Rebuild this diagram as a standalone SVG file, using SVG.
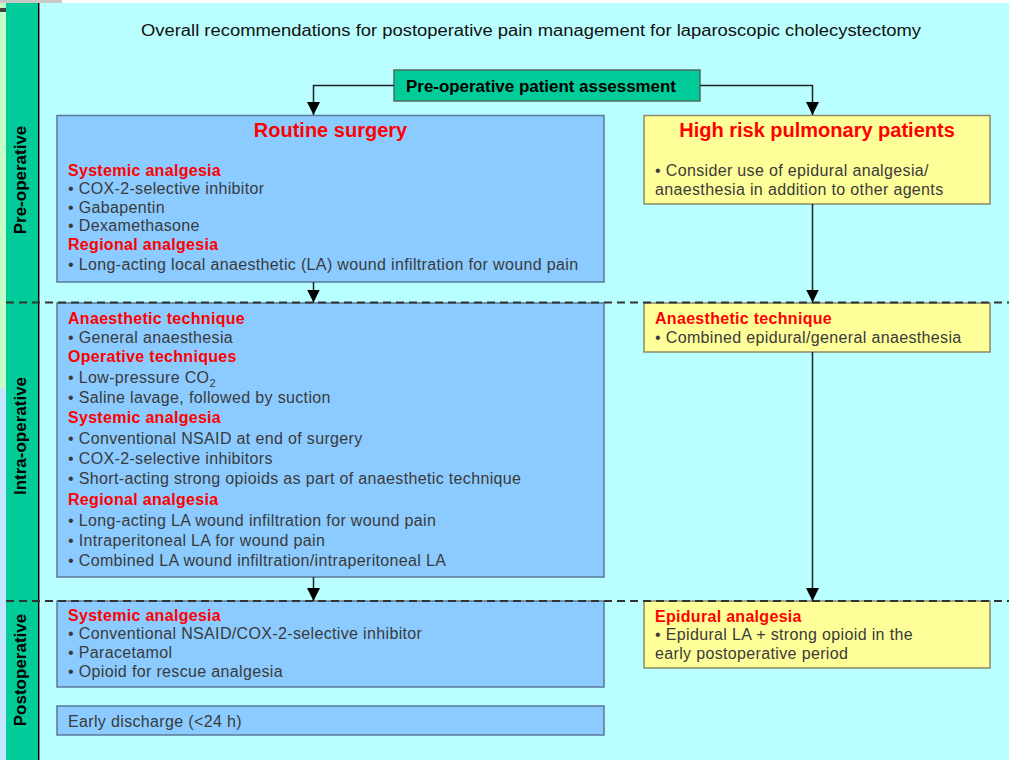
<svg xmlns="http://www.w3.org/2000/svg" width="1009" height="760" viewBox="0 0 1009 760">
<style>
text{font-family:"Liberation Sans",Arial,sans-serif}
.hd{font-size:16px;font-weight:bold;fill:#FF0000;letter-spacing:0.3px}
.tx{font-size:16px;fill:#3a3a3a;letter-spacing:0.35px}
.big{font-size:20px;font-weight:bold;fill:#FF0000;text-anchor:middle}
.lab{font-size:17px;font-weight:bold;fill:#000;text-anchor:middle}
.blue{fill:#8CCBFF;stroke:#5A7899;stroke-width:1.5}
.yel{fill:#FFFF99;stroke:#8A8A6A;stroke-width:1.5}
.conn{stroke:#222;stroke-width:1.5;fill:none;marker-end:url(#arr)}
.dash{stroke:#333;stroke-width:2;stroke-dasharray:8 5;fill:none}
</style>
<defs>
<marker id="arr" markerUnits="userSpaceOnUse" markerWidth="13" markerHeight="13" refX="13" refY="6.5" orient="auto">
<path d="M0,0 L13,6.5 L0,13 z" fill="#000"/>
</marker>
</defs>
<g id="background">
<rect x="0" y="0" width="1009" height="760" fill="#B9FFFF"/>
<rect x="0" y="0" width="1009" height="3" fill="#FFFFFF"/>
<rect x="0" y="0" width="62" height="3" fill="#C8C8C8"/>
<rect x="0" y="3" width="6" height="385" fill="#C4FFC8"/>
<rect x="0" y="388" width="6" height="372" fill="#C4E6FF"/>
<rect x="0" y="8" width="6" height="4" fill="#444"/>
<rect x="6" y="3" width="32" height="757" fill="#00CC99"/>
<line x1="38.5" y1="3" x2="38.5" y2="760" stroke="#000" stroke-width="1"/>
<line x1="39.5" y1="3" x2="39.5" y2="760" stroke="#888" stroke-width="1"/>
</g>
<g id="phase-labels">
<text class="lab" transform="translate(26,180) rotate(-90)">Pre-operative</text>
<text class="lab" transform="translate(26,436) rotate(-90)">Intra-operative</text>
<text class="lab" transform="translate(26,670) rotate(-90)">Postoperative</text>
</g>
<g id="title">
<text x="141" y="36" font-size="16" fill="#111" textLength="780" lengthAdjust="spacingAndGlyphs">Overall recommendations for postoperative pain management for laparoscopic cholecystectomy</text>
</g>
<g id="assessment">
<rect x="394" y="70" width="306" height="31" fill="#00CC99" stroke="#4E6E60" stroke-width="1.5"/>
<text x="406" y="91.5" font-size="17" font-weight="bold" fill="#000" textLength="270" lengthAdjust="spacingAndGlyphs">Pre-operative patient assessment</text>
</g>
<g id="routine-preop">
<rect class="blue" x="57" y="115.5" width="547" height="166.5"/>
<text class="big" x="330.5" y="137">Routine surgery</text>
<text class="hd" x="68" y="176">Systemic analgesia</text>
<text class="tx" x="68" y="194">• COX-2-selective inhibitor</text>
<text class="tx" x="68" y="212.5">• Gabapentin</text>
<text class="tx" x="68" y="231">• Dexamethasone</text>
<text class="hd" x="68" y="250">Regional analgesia</text>
<text class="tx" x="68" y="269.5">• Long-acting local anaesthetic (LA) wound infiltration for wound pain</text>
</g>
<g id="highrisk-preop">
<rect class="yel" x="644" y="115.5" width="346" height="88.5"/>
<text class="big" x="817" y="137">High risk pulmonary patients</text>
<text class="tx" x="655" y="175.5">• Consider use of epidural analgesia/</text>
<text class="tx" x="655" y="194.5">anaesthesia in addition to other agents</text>
</g>
<g id="routine-intraop">
<rect class="blue" x="57" y="303" width="547" height="274"/>
<text class="hd" x="68" y="324">Anaesthetic technique</text>
<text class="tx" x="68" y="342.7">• General anaesthesia</text>
<text class="hd" x="68" y="361.7">Operative techniques</text>
<text class="tx" x="68" y="383">• Low-pressure CO<tspan font-size="11" dy="4">2</tspan></text>
<text class="tx" x="68" y="403">• Saline lavage, followed by suction</text>
<text class="hd" x="68" y="423">Systemic analgesia</text>
<text class="tx" x="68" y="444">• Conventional NSAID at end of surgery</text>
<text class="tx" x="68" y="464">• COX-2-selective inhibitors</text>
<text class="tx" x="68" y="484">• Short-acting strong opioids as part of anaesthetic technique</text>
<text class="hd" x="68" y="505">Regional analgesia</text>
<text class="tx" x="68" y="526">• Long-acting LA wound infiltration for wound pain</text>
<text class="tx" x="68" y="546">• Intraperitoneal LA for wound pain</text>
<text class="tx" x="68" y="566">• Combined LA wound infiltration/intraperitoneal LA</text>
</g>
<g id="highrisk-intraop">
<rect class="yel" x="644" y="303" width="346" height="49"/>
<text class="hd" x="655" y="323.5">Anaesthetic technique</text>
<text class="tx" x="655" y="343">• Combined epidural/general anaesthesia</text>
</g>
<g id="routine-postop">
<rect class="blue" x="57" y="601" width="547" height="86"/>
<text class="hd" x="68" y="620.7">Systemic analgesia</text>
<text class="tx" x="68" y="639">• Conventional NSAID/COX-2-selective inhibitor</text>
<text class="tx" x="68" y="658">• Paracetamol</text>
<text class="tx" x="68" y="677">• Opioid for rescue analgesia</text>
</g>
<g id="early-discharge">
<rect class="blue" x="57" y="706" width="547" height="29"/>
<text class="tx" x="68" y="726.5">Early discharge (&lt;24 h)</text>
</g>
<g id="highrisk-postop">
<rect class="yel" x="644" y="601" width="346" height="67"/>
<text class="hd" x="655" y="621.5">Epidural analgesia</text>
<text class="tx" x="655" y="640">• Epidural LA + strong opioid in the</text>
<text class="tx" x="655" y="658.5">early postoperative period</text>
</g>
<g id="phase-dividers">
<line class="dash" x1="6" y1="302.5" x2="1009" y2="302.5"/>
<line class="dash" x1="6" y1="601" x2="1009" y2="601"/>
</g>
<g id="connectors">
<path class="conn" d="M394,85.5 H313.5 V115"/>
<path class="conn" d="M700,85.5 H812.5 V115"/>
<path class="conn" d="M313.5,282 V302.5"/>
<path class="conn" d="M812.5,204 V302.5"/>
<path class="conn" d="M313.5,577 V601"/>
<path class="conn" d="M812.5,352 V601"/>
</g>
</svg>
